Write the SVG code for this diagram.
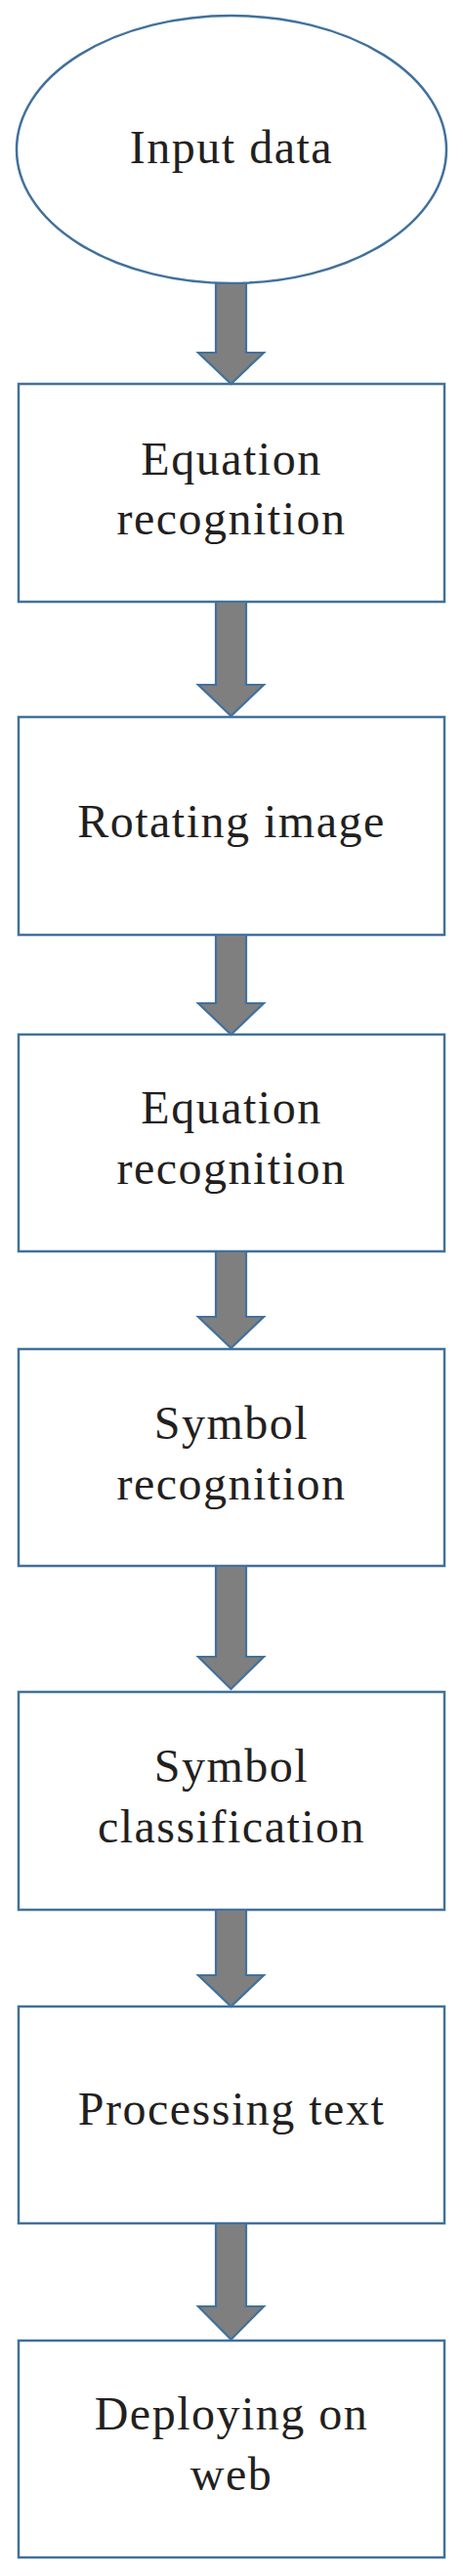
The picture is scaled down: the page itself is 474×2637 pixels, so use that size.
<svg xmlns="http://www.w3.org/2000/svg" width="474" height="2637" viewBox="0 0 474 2637">
<style>
.node{fill:#ffffff;stroke:#41719c;stroke-width:2.5}
.lbl{font-family:"Liberation Serif","Times New Roman",serif;font-size:48px;fill:#231f20;text-anchor:middle;letter-spacing:1.5px}
.arr{fill:#7f7f7f;stroke:#41719c;stroke-width:2.2;stroke-linejoin:miter}
</style>
<rect x="0" y="0" width="474" height="2637" fill="#ffffff"/>
<g id="input">
<ellipse class="node" cx="237" cy="153" rx="220" ry="137"/>
<text class="lbl" x="237" y="167">Input data</text>
</g>
<g id="eq1">
<rect class="node" x="19" y="393" width="436" height="223"/>
<text class="lbl" x="237" y="486">Equation</text>
<text class="lbl" x="237" y="547">recognition</text>
</g>
<g id="rotate">
<rect class="node" x="19" y="734" width="436" height="223"/>
<text class="lbl" x="237" y="857">Rotating image</text>
</g>
<g id="eq2">
<rect class="node" x="19" y="1059" width="436" height="222"/>
<text class="lbl" x="237" y="1150">Equation</text>
<text class="lbl" x="237" y="1212">recognition</text>
</g>
<g id="symrec">
<rect class="node" x="19" y="1381" width="436" height="222"/>
<text class="lbl" x="237" y="1473">Symbol</text>
<text class="lbl" x="237" y="1535">recognition</text>
</g>
<g id="symcls">
<rect class="node" x="19" y="1732" width="436" height="223"/>
<text class="lbl" x="237" y="1824">Symbol</text>
<text class="lbl" x="237" y="1886">classification</text>
</g>
<g id="proc">
<rect class="node" x="19" y="2054" width="436" height="222"/>
<text class="lbl" x="237" y="2175">Processing text</text>
</g>
<g id="deploy">
<rect class="node" x="19" y="2396" width="436" height="222"/>
<text class="lbl" x="237" y="2487">Deploying on</text>
<text class="lbl" x="237" y="2549">web</text>
</g>
<g id="connectors">
<path class="arr" d="M221,290 L252,290 L252,361 L270,361 L236.5,393 L203,361 L221,361 Z"/>
<path class="arr" d="M221,616 L252,616 L252,701 L270,701 L236.5,733 L203,701 L221,701 Z"/>
<path class="arr" d="M221,957 L252,957 L252,1027 L270,1027 L236.5,1059 L203,1027 L221,1027 Z"/>
<path class="arr" d="M221,1281 L252,1281 L252,1348 L270,1348 L236.5,1380 L203,1348 L221,1348 Z"/>
<path class="arr" d="M221,1603 L252,1603 L252,1696 L270,1696 L236.5,1729 L203,1696 L221,1696 Z"/>
<path class="arr" d="M221,1955 L252,1955 L252,2022 L270,2022 L236.5,2054 L203,2022 L221,2022 Z"/>
<path class="arr" d="M221,2276 L252,2276 L252,2361 L270,2361 L236.5,2395 L203,2361 L221,2361 Z"/>
</g>
</svg>
